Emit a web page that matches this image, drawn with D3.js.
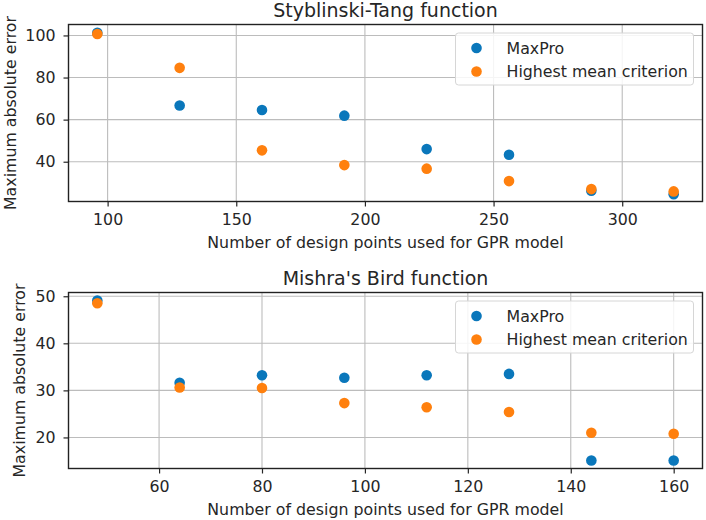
<!DOCTYPE html>
<html>
<head>
<meta charset="utf-8">
<script src="https://cdn.jsdelivr.net/npm/d3@7"></script>
<style>
  body { margin: 0; background: #fff; }
  svg text { font-family: "DejaVu Sans", sans-serif; fill: #262626; }
</style>
</head>
<body>
<svg id="chart" width="706" height="520"></svg>
<script>
// data
const stX = [96, 128, 160, 192, 224, 256, 288, 320]
const stMaxPro = [101.3, 66.7, 64.6, 61.9, 46.0, 43.3, 26.2, 24.6]
const stHighMean = [100.7, 84.6, 45.4, 38.4, 36.7, 30.8, 27.0, 25.9]
const stXTicks = [100, 150, 200, 250, 300]
const stYTicks = [40, 60, 80, 100]

const mbX = [48, 64, 80, 96, 112, 128, 144, 160]
const mbMaxPro = [49.1, 31.6, 33.2, 32.7, 33.2, 33.5, 15.1, 15.1]
const mbHighMean = [48.5, 30.6, 30.5, 27.3, 26.4, 25.4, 21.0, 20.8]
const mbXTicks = [60, 80, 100, 120, 140, 160]
const mbYTicks = [20, 30, 40, 50]

const seriesNames = ['MaxPro', 'Highest mean criterion']
const colors = ['#0a77bb', '#ff800e']

const fs = 15.8
const r = 5.3

const svg = d3.select('#chart')

function panel (opts) {
  const g = svg.append('g')
  const x = d3.scaleLinear().domain(opts.xDomain).range([68.5, 702.5])
  const y = d3.scaleLinear().domain(opts.yDomain).range([opts.bottom, opts.top])

  // grid
  g.append('g').selectAll('line').data(opts.xTicks).join('line')
    .attr('x1', d => x(d)).attr('x2', d => x(d))
    .attr('y1', opts.top).attr('y2', opts.bottom)
    .attr('stroke', '#bcbcbc').attr('stroke-width', 1.1)
  g.append('g').selectAll('line').data(opts.yTicks).join('line')
    .attr('x1', 68.5).attr('x2', 702.5)
    .attr('y1', d => y(d)).attr('y2', d => y(d))
    .attr('stroke', '#bcbcbc').attr('stroke-width', 1.1)

  const xAxis = g.append('g')
    .attr('transform', `translate(0,${opts.bottom})`)
    .call(d3.axisBottom(x).tickValues(opts.xTicks).tickSize(5).tickPadding(7))
  const yAxis = g.append('g')
    .attr('transform', 'translate(68.5,0)')
    .call(d3.axisLeft(y).tickValues(opts.yTicks).tickSize(5).tickPadding(8))
  for (const a of [xAxis, yAxis]) {
    a.select('.domain').remove()
    a.selectAll('text').style('font-size', fs + 'px').attr('fill', '#262626')
    a.selectAll('line').attr('stroke', '#262626').attr('stroke-width', 1.2)
  }

  // frame
  g.append('rect')
    .attr('x', 68.5).attr('y', opts.top)
    .attr('width', 634).attr('height', opts.bottom - opts.top)
    .attr('fill', 'none').attr('stroke', '#222').attr('stroke-width', 1.4)

  // points: MaxPro first, then the orange series on top
  const sets = [opts.maxPro, opts.highMean]
  sets.forEach((vals, si) => {
    g.append('g').selectAll('circle').data(vals).join('circle')
      .attr('cx', (d, i) => x(opts.xs[i]))
      .attr('cy', d => y(d))
      .attr('r', r)
      .attr('fill', colors[si])
  })

  // legend
  const lg = g.append('g').attr('transform', `translate(455.5,${opts.top + 8.5})`)
  lg.append('rect').attr('width', 238).attr('height', 52).attr('rx', 3)
    .attr('fill', 'rgba(255,255,255,0.85)').attr('stroke', '#d6d6d6').attr('stroke-width', 1)
  seriesNames.forEach((name, i) => {
    lg.append('circle').attr('cx', 21).attr('cy', 15 + i * 23.5).attr('r', r).attr('fill', colors[i])
    lg.append('text').attr('x', 51).attr('y', 15 + i * 23.5).attr('dy', '0.35em')
      .style('font-size', fs + 'px').text(name)
  })

  // titles
  svg.append('text').attr('x', 385.5).attr('y', opts.top - 7.5)
    .attr('text-anchor', 'middle').style('font-size', '19px').text(opts.title)
  svg.append('text').attr('x', 385.5).attr('y', opts.bottom + 46)
    .attr('text-anchor', 'middle').style('font-size', fs + 'px')
    .text('Number of design points used for GPR model')
  svg.append('text')
    .attr('transform', `translate(${opts.yLabelX},${(opts.top + opts.bottom) / 2}) rotate(-90)`)
    .attr('text-anchor', 'middle').style('font-size', fs + 'px')
    .text('Maximum absolute error')
}

panel({
  title: 'Styblinski-Tang function',
  xs: stX, maxPro: stMaxPro, highMean: stHighMean,
  xDomain: [84.8, 331.2], yDomain: [21.1, 105.2],
  xTicks: stXTicks, yTicks: stYTicks,
  top: 24.5, bottom: 201.5, yLabelX: 15.5
})

panel({
  title: "Mishra's Bird function",
  xs: mbX, maxPro: mbMaxPro, highMean: mbHighMean,
  xDomain: [42.4, 165.6], yDomain: [13.4, 50.8],
  xTicks: mbXTicks, yTicks: mbYTicks,
  top: 292.5, bottom: 468.5, yLabelX: 25
})
</script>
</body>
</html>
